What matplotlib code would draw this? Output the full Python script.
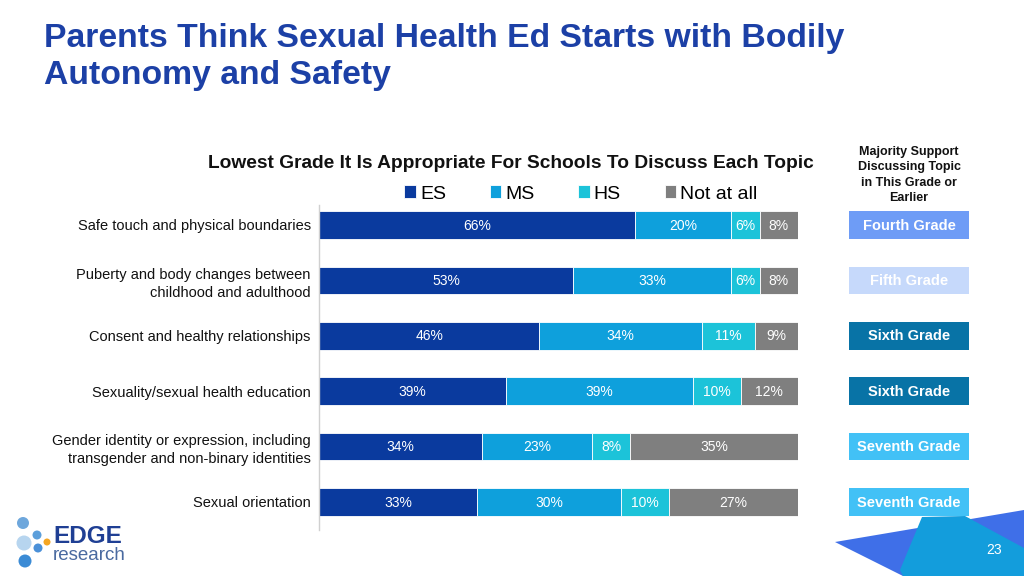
import matplotlib
matplotlib.use("Agg")
import matplotlib.pyplot as plt
from matplotlib.patches import Rectangle, Polygon, Ellipse
import numpy as np

plt.rcParams['font.family'] = ['Liberation Sans', 'DejaVu Sans']

categories = [
    "Safe touch and physical boundaries",
    "Puberty and body changes between\nchildhood and adulthood",
    "Consent and healthy relationships",
    "Sexuality/sexual health education",
    "Gender identity or expression, including\ntransgender and non-binary identities",
    "Sexual orientation",
]
series_names = ["ES", "MS", "HS", "Not at all"]
es = [66, 53, 46, 39, 34, 33]
ms = [20, 33, 34, 39, 23, 30]
hs = [6, 6, 11, 10, 8, 10]
not_at_all = [8, 8, 9, 12, 35, 27]
majority_grade = ["Fourth Grade", "Fifth Grade", "Sixth Grade", "Sixth Grade",
                  "Seventh Grade", "Seventh Grade"]

colors = ["#0a3a9e", "#0ea0dc", "#1cc3d9", "#7f7f7f"]
grade_colors = {"Fourth Grade": "#6e9cf6", "Fifth Grade": "#c6d9fb",
                "Sixth Grade": "#0873a6", "Seventh Grade": "#42c1f6"}

W, H = 1024, 576
fig = plt.figure(figsize=(W / 100, H / 100), dpi=100)
fig.patch.set_facecolor("white")

def fx(x):
    return x / W

def fy(y):
    return 1 - y / H

# Title
fig.text(fx(44), fy(57), "Parents Think Sexual Health Ed Starts with Bodily\nAutonomy and Safety",
         color="#1c40a6", fontsize=24.3, fontweight="bold", ha="left", va="center",
         linespacing=1.27)

# Subtitle
fig.text(fx(511), fy(163), "Lowest Grade It Is Appropriate For Schools To Discuss Each Topic",
         fontsize=13.8, fontweight="bold", ha="center", va="center", color="#111111")

# Axes for bars
ax_left, ax_right, ax_top, ax_bot = 319, 798, 205, 530
ax = fig.add_axes([fx(ax_left), fy(ax_bot), (ax_right - ax_left) / W, (ax_bot - ax_top) / H])
px_per_unit = 55.4
top_units = (225 - ax_top) / px_per_unit
bot_units = (ax_bot - 502) / px_per_unit
ax.set_ylim(5 + bot_units, -top_units)
ax.set_xlim(0, 100)

y = np.arange(len(categories))
data = [es, ms, hs, not_at_all]
left = np.zeros(len(categories))
for name, vals, c in zip(series_names, data, colors):
    vals = np.array(vals, dtype=float)
    ax.barh(y, vals, left=left, height=0.5, color=c, label=name, edgecolor="white", linewidth=0.6)
    for yi, l, v in zip(y, left, vals):
        ax.text(l + v / 2, yi + 0.01, f"{int(v)}%", ha="center", va="center",
                color="white", fontsize=10)
    left += vals

ax.set_yticks(y)
ax.set_yticklabels(categories, fontsize=10.5, color="#111111", linespacing=1.35)
ax.tick_params(axis="y", length=0, pad=6)
ax.set_xticks([])
for s in ["top", "right", "bottom"]:
    ax.spines[s].set_visible(False)
ax.spines["left"].set_color("#d0d0d0")
ax.spines["left"].set_linewidth(1)

# Legend
leg = fig.legend(*ax.get_legend_handles_labels(), loc="center", bbox_to_anchor=(fx(581), fy(194)),
                 ncol=4, frameon=False, fontsize=14, handlelength=0.6, handleheight=0.6,
                 handletextpad=0.2, columnspacing=2.25)

# Right column header
fig.text(fx(909), fy(175), "Majority Support\nDiscussing Topic\nin This Grade or\nEarlier",
         ha="center", va="center", fontsize=9, fontweight="bold", linespacing=1.4,
         color="#111111")

# Right column boxes (in axes y data coords)
trans = matplotlib.transforms.blended_transform_factory(fig.transFigure, ax.transData)
for yi, g in zip(y, majority_grade):
    r = Rectangle((fx(849), yi - 0.25), fx(969) - fx(849), 0.5, transform=trans,
                  facecolor=grade_colors[g], edgecolor="none", clip_on=False)
    fig.add_artist(r)
    t = fig.text(fx(909), 0, g, transform=trans, ha="center", va="center",
                 fontsize=10.5, fontweight="bold", color="white")
    t.set_y(yi + 0.01)

# Decorative shapes bottom right
fig.add_artist(Polygon([(fx(835), fy(542)), (fx(1024), fy(510)), (fx(1024), fy(576)),
                        (fx(903), fy(576))], closed=True, transform=fig.transFigure,
                       facecolor="#3f6fe8", edgecolor="none"))
fig.add_artist(Polygon([(fx(922), fy(517)), (fx(965), fy(516)), (fx(1024), fy(548)),
                        (fx(1024), fy(576)), (fx(903), fy(576)), (fx(900), fy(570))],
                       closed=True, transform=fig.transFigure,
                       facecolor="#139ddc", edgecolor="none"))
fig.text(fx(994), fy(550), "23", color="white", fontsize=10, ha="center", va="center")

# Logo
for (cx, cy, r, c) in [(23, 523, 6, "#6ea7dc"), (24, 543, 7.5, "#b7d5ef"), (37, 535, 4.5, "#5c9fdb"),
                       (38, 548, 4.5, "#4b90d8"), (47, 542, 3.5, "#f5a623"), (25, 561, 6.5, "#3b8bd5")]:
    fig.add_artist(Ellipse((fx(cx), fy(cy)), 2 * r / W, 2 * r / H, transform=fig.transFigure,
                           facecolor=c, edgecolor="none"))
fig.text(fx(53), fy(543), "EDGE", color="#1f3f94", fontsize=17.5, fontweight="bold",
         ha="left", va="baseline")
fig.text(fx(53), fy(560), "research", color="#4a6aa0", fontsize=13.5, ha="left", va="baseline")

fig.savefig("out.png", dpi=100, facecolor="white")
